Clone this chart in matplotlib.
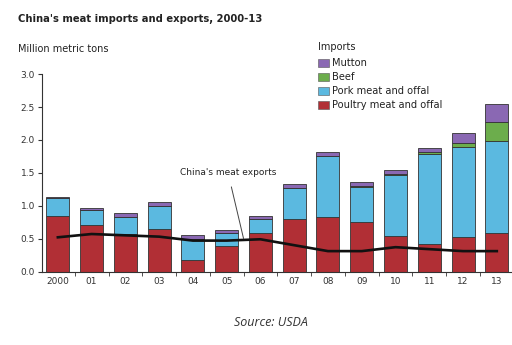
import numpy as np
import matplotlib.pyplot as plt

years = ['2000', '01', '02', '03', '04', '05', '06', '07', '08', '09', '10', '11', '12', '13']
poultry = [0.85, 0.70, 0.57, 0.65, 0.18, 0.39, 0.58, 0.80, 0.83, 0.75, 0.54, 0.42, 0.52, 0.58]
pork = [0.27, 0.24, 0.26, 0.34, 0.32, 0.19, 0.22, 0.47, 0.92, 0.53, 0.92, 1.36, 1.37, 1.41]
beef = [0.00, 0.00, 0.00, 0.00, 0.00, 0.00, 0.00, 0.00, 0.01, 0.02, 0.02, 0.03, 0.06, 0.29]
mutton = [0.02, 0.03, 0.06, 0.06, 0.05, 0.05, 0.05, 0.06, 0.06, 0.06, 0.06, 0.07, 0.15, 0.27]
exports = [0.52, 0.57, 0.55, 0.53, 0.47, 0.47, 0.49, 0.40, 0.31, 0.31, 0.37, 0.34, 0.31, 0.31]

c_poultry = '#b12f35'
c_pork = '#5bb9e0'
c_beef = '#6cad4c'
c_mutton = '#8a68b3'

fig = plt.figure(figsize=(5.12, 3.45), dpi=100)
ax = fig.add_axes([0.082, 0.213, 0.918, 0.572])

x = np.arange(len(years))
w = 0.68
edge = dict(edgecolor='#333333', linewidth=0.6)
b0 = np.zeros(len(years))
ax.bar(x, poultry, w, bottom=b0, color=c_poultry, **edge)
b0 = b0 + np.array(poultry)
ax.bar(x, pork, w, bottom=b0, color=c_pork, **edge)
b0 = b0 + np.array(pork)
ax.bar(x, beef, w, bottom=b0, color=c_beef, **edge)
b0 = b0 + np.array(beef)
ax.bar(x, mutton, w, bottom=b0, color=c_mutton, **edge)

ax.plot(x, exports, color='#111111', linewidth=1.9, solid_joinstyle='round')

ax.set_xlim(-0.47, 13.45)
ax.set_ylim(0, 3.0)
ax.set_yticks(np.arange(0, 3.01, 0.5))
ax.set_yticklabels([f'{v:.1f}' for v in np.arange(0, 3.01, 0.5)], fontsize=6.5, color='#333333')
ax.set_xticks(x)
ax.set_xticklabels(years, fontsize=6.5, color='#333333')
ax.set_xticks(x[:-1] + 0.5, minor=True)
ax.tick_params(axis='x', which='major', length=0, pad=4)
ax.tick_params(axis='x', which='minor', length=3, color='#333333')
ax.tick_params(axis='y', length=3, color='#333333', pad=2)
for s in ['top', 'right']:
    ax.spines[s].set_visible(False)
for s in ['left', 'bottom']:
    ax.spines[s].set_color('#333333')
    ax.spines[s].set_linewidth(0.8)

ax.annotate("China's meat exports", xy=(5.5, 0.5), xytext=(5.04, 1.50),
            fontsize=6.5, color='#222222', ha='center', va='center',
            arrowprops=dict(arrowstyle='-', color='#444444', linewidth=0.7,
                            shrinkA=5, shrinkB=0))

fig.text(0.035, 0.945, "China's meat imports and exports, 2000-13", fontsize=7.2,
         fontweight='bold', color='#222222', va='center')
fig.text(0.035, 0.858, 'Million metric tons', fontsize=7, color='#222222', va='center')

# legend drawn by hand
fig.text(0.622, 0.864, 'Imports', fontsize=7, color='#222222', va='center')
leg = [('Mutton', c_mutton), ('Beef', c_beef), ('Pork meat and offal', c_pork),
       ('Poultry meat and offal', c_poultry)]
for i, (lab, col) in enumerate(leg):
    yy = 0.817 - i * 0.0405
    fig.patches.append(plt.Rectangle((0.622, yy - 0.011), 0.02, 0.022, transform=fig.transFigure,
                                     facecolor=col, edgecolor='#555555', linewidth=0.4))
    fig.text(0.648, yy, lab, fontsize=7.1, color='#222222', va='center')

fig.text(0.53, 0.064, 'Source: USDA', fontsize=9, style='italic', family='Open Sans',
         color='#333333', ha='center', va='center')

fig.savefig('out.png', dpi=100)
